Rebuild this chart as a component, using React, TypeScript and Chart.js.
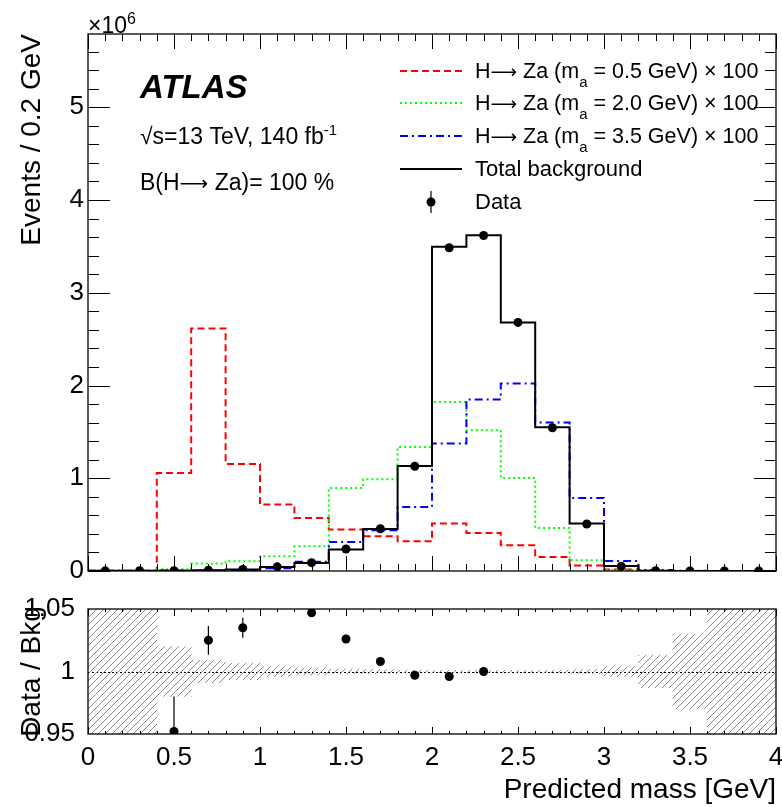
import React, { useEffect, useRef } from 'react';
import { Chart, registerables } from 'chart.js';

Chart.register(...registerables);

const FONT = '"Liberation Sans", Arial, Helvetica, sans-serif';
const ARROW_FONT = '"DejaVu Sans", "Liberation Sans", sans-serif';

// ---- data (events in units of 10^6) ----
const binEdges = [0, 0.2, 0.4, 0.6, 0.8, 1.0, 1.2, 1.4, 1.6, 1.8, 2.0, 2.2, 2.4, 2.6, 2.8, 3.0, 3.2, 3.4, 3.6, 3.8, 4.0];
const binCenters = [0.1, 0.3, 0.5, 0.7, 0.9, 1.1, 1.3, 1.5, 1.7, 1.9, 2.1, 2.3, 2.5, 2.7, 2.9, 3.1, 3.3, 3.5, 3.7, 3.9];

const signalMasses = ['0.5', '2.0', '3.5'];
const signalMa05 = [0, 0, 1.057, 2.615, 1.154, 0.716, 0.572, 0.447, 0.374, 0.320, 0.511, 0.410, 0.277, 0.151, 0.060, 0.015, 0.003, 0.001, 0, 0];
const signalMa20 = [0.002, 0.004, 0.02, 0.08, 0.105, 0.16, 0.266, 0.895, 0.99, 1.338, 1.823, 1.518, 1.003, 0.464, 0.115, 0.012, 0.002, 0, 0, 0];
const signalMa35 = [0.002, 0.003, 0.005, 0.006, 0.01, 0.03, 0.1, 0.313, 0.439, 0.69, 1.374, 1.849, 2.022, 1.601, 0.788, 0.108, 0.01, 0.002, 0, 0];
const totalBackground = [0.002, 0.003, 0.004, 0.008, 0.016, 0.043, 0.086, 0.231, 0.453, 1.133, 3.495, 3.621, 2.68, 1.55, 0.511, 0.054, 0.003, 0.001, 0.0005, 0.0003];
const dataEvents = [0.002, 0.003, 0.004, 0.008, 0.017, 0.045, 0.09, 0.237, 0.456, 1.13, 3.485, 3.618, 2.68, 1.545, 0.507, 0.05, 0.003, 0.001, 0.0005, 0.0003];

const ratioValues = [null, null, 0.952, 1.025, 1.035, null, 1.047, 1.026, 1.008, 0.997, 0.996, 1.0, null, null, null, null, null, null, null, null];
const ratioErrors = [0, 0, 0.028, 0.0115, 0.008, 0, 0.002, 0.0012, 0.001, 0.001, 0.001, 0.001, 0, 0, 0, 0, 0, 0, 0, 0];
const bkgRelUnc = [1, 1, 0.02, 0.009, 0.0066, 0.004, 0.003, 0.002, 0.0015, 0.0012, 0.001, 0.001, 0.001, 0.0012, 0.0015, 0.004, 0.013, 0.03, 1, 1];

const yTickLabels = ['0', '1', '2', '3', '4', '5'];
const ratioTickLabels = ['0.95', '1', '1.05'];

const COLORS = { red: '#ff0000', green: '#00ff00', blue: '#0000ff', black: '#000000' };
const DASH = { red: [7, 4], green: [2, 3], blue: [8, 4, 2, 4], black: [] as number[] };

function stepPoints(vals: number[]) {
  return binEdges.map((x, i) => ({ x, y: vals[Math.min(i, vals.length - 1)] }));
}

type Part = { t: string; size: number; dy?: number; style?: string; family?: string };
function drawRich(ctx: CanvasRenderingContext2D, x: number, y: number, parts: Part[]) {
  let cx = x;
  for (const p of parts) {
    ctx.font = `${p.style || ''} ${p.size}px ${p.family || FONT}`;
    ctx.fillText(p.t, cx, y + (p.dy || 0));
    cx += ctx.measureText(p.t).width;
  }
}

const mainPlugin = {
  id: 'mainDecor',
  afterDraw(chart: any) {
    const { ctx, chartArea: a, scales } = chart;
    const x = scales.x, y = scales.y;
    ctx.save();
    ctx.strokeStyle = '#000';
    ctx.lineWidth = 1;
    ctx.setLineDash([]);
    ctx.beginPath();
    for (let i = 0; i <= 40; i++) {
      const px = Math.round(x.getPixelForValue(i * 0.1)) + 0.5;
      const len = i % 5 === 0 ? 15 : 7;
      ctx.moveTo(px, a.bottom); ctx.lineTo(px, a.bottom - len);
      ctx.moveTo(px, a.top); ctx.lineTo(px, a.top + len);
    }
    for (let j = 0; j * 0.2 <= y.max + 1e-9; j++) {
      const py = Math.round(y.getPixelForValue(j * 0.2)) + 0.5;
      const len = j % 5 === 0 ? 22 : 11;
      ctx.moveTo(a.left, py); ctx.lineTo(a.left + len, py);
      ctx.moveTo(a.right, py); ctx.lineTo(a.right - len, py);
    }
    ctx.stroke();
    ctx.lineWidth = 1.3;
    ctx.strokeRect(a.left, a.top, a.right - a.left, a.bottom - a.top);

    ctx.fillStyle = '#000';
    ctx.textBaseline = 'alphabetic';
    ctx.textAlign = 'left';
    // exponent label
    drawRich(ctx, 88, 33, [{ t: '×10', size: 23 }, { t: '6', size: 16, dy: -9 }]);
    // ATLAS label
    drawRich(ctx, 140, 98, [{ t: 'ATLAS', size: 33, style: 'italic bold' }]);
    drawRich(ctx, 140, 144, [{ t: '√s=13 TeV, 140 fb', size: 23 }, { t: '-1', size: 15, dy: -9 }]);
    drawRich(ctx, 140, 190, [
      { t: 'B(H', size: 23 },
      { t: '⟶', size: 20, family: ARROW_FONT },
      { t: ' Za)= 100 %', size: 23 },
    ]);

    // legend
    const lx0 = 400, lx1 = 462, tx = 475;
    const baselines = [78, 110, 143, 176, 209];
    const sigStyles = [
      { c: COLORS.red, d: DASH.red },
      { c: COLORS.green, d: DASH.green },
      { c: COLORS.blue, d: DASH.blue },
    ];
    signalMasses.forEach((m, i) => {
      const b = baselines[i];
      ctx.strokeStyle = sigStyles[i].c;
      ctx.lineWidth = 2;
      ctx.setLineDash(sigStyles[i].d);
      ctx.beginPath(); ctx.moveTo(lx0, b - 7); ctx.lineTo(lx1, b - 7); ctx.stroke();
      ctx.setLineDash([]);
      drawRich(ctx, tx, b, [
        { t: 'H', size: 21.5 },
        { t: '⟶', size: 18.5, family: ARROW_FONT },
        { t: ' Za (m', size: 21.5 },
        { t: 'a', size: 15, dy: 9 },
        { t: ` = ${m} GeV) × 100`, size: 21.5 },
      ]);
    });
    ctx.strokeStyle = '#000';
    ctx.lineWidth = 2;
    ctx.beginPath(); ctx.moveTo(lx0, baselines[3] - 7); ctx.lineTo(lx1, baselines[3] - 7); ctx.stroke();
    drawRich(ctx, tx, baselines[3], [{ t: 'Total background', size: 22 }]);
    const dx = (lx0 + lx1) / 2, dy = baselines[4] - 7;
    ctx.lineWidth = 1.2;
    ctx.beginPath(); ctx.moveTo(dx, dy - 11); ctx.lineTo(dx, dy + 11); ctx.stroke();
    ctx.beginPath(); ctx.arc(dx, dy, 4.5, 0, Math.PI * 2); ctx.fill();
    drawRich(ctx, tx, baselines[4], [{ t: 'Data', size: 22 }]);
    ctx.restore();
  },
};

const ratioPlugin = {
  id: 'ratioDecor',
  beforeDatasetsDraw(chart: any) {
    const { ctx, chartArea: a, scales } = chart;
    const py = Math.round(scales.y.getPixelForValue(1)) + 0.5;
    ctx.save();
    ctx.strokeStyle = '#000';
    ctx.lineWidth = 1;
    ctx.setLineDash([2, 2]);
    ctx.beginPath(); ctx.moveTo(a.left, py); ctx.lineTo(a.right, py); ctx.stroke();
    ctx.restore();
  },
  afterDatasetsDraw(chart: any) {
    const { ctx, chartArea: a, scales } = chart;
    const x = scales.x, y = scales.y;
    ctx.save();
    ctx.beginPath();
    ctx.rect(a.left, a.top, a.right - a.left, a.bottom - a.top);
    ctx.clip();
    ctx.strokeStyle = '#000';
    ctx.lineWidth = 1.2;
    ctx.beginPath();
    ratioValues.forEach((v, i) => {
      if (v == null || !ratioErrors[i]) return;
      const px = x.getPixelForValue(binCenters[i]);
      ctx.moveTo(px, y.getPixelForValue(v - ratioErrors[i]));
      ctx.lineTo(px, y.getPixelForValue(v + ratioErrors[i]));
    });
    ctx.stroke();
    ctx.restore();
  },
  afterDraw(chart: any) {
    const { ctx, chartArea: a, scales } = chart;
    const x = scales.x;
    ctx.save();
    ctx.strokeStyle = '#000';
    ctx.lineWidth = 1;
    ctx.beginPath();
    for (let i = 0; i <= 40; i++) {
      const px = Math.round(x.getPixelForValue(i * 0.1)) + 0.5;
      const len = i % 5 === 0 ? 7 : 3;
      ctx.moveTo(px, a.bottom); ctx.lineTo(px, a.bottom - len);
      ctx.moveTo(px, a.top); ctx.lineTo(px, a.top + len);
    }
    ctx.stroke();
    ctx.lineWidth = 1.3;
    ctx.strokeRect(a.left, a.top, a.right - a.left, a.bottom - a.top);
    ctx.restore();
  },
};

function makeHatch(target: HTMLCanvasElement) {
  const c = document.createElement('canvas');
  c.width = 7; c.height = 7;
  const g = c.getContext('2d')!;
  g.strokeStyle = '#8a8a8a';
  g.lineWidth = 1;
  g.beginPath();
  g.moveTo(0, 7); g.lineTo(7, 0);
  g.moveTo(-1, 1); g.lineTo(1, -1);
  g.moveTo(6, 8); g.lineTo(8, 6);
  g.stroke();
  return target.getContext('2d')!.createPattern(c, 'repeat');
}

export default function App() {
  const mainRef = useRef<HTMLCanvasElement>(null);
  const ratioRef = useRef<HTMLCanvasElement>(null);

  useEffect(() => {
    Chart.defaults.font.family = FONT;
    Chart.defaults.color = '#000';

    const mainChart = new Chart(mainRef.current!, {
      type: 'line',
      data: {
        datasets: [
          {
            label: 'Data',
            data: binCenters.map((x, i) => ({ x, y: dataEvents[i] })),
            showLine: false,
            pointRadius: 4.5,
            pointBackgroundColor: '#000',
            pointBorderWidth: 0,
            order: 0,
          },
          {
            label: 'Total background',
            data: stepPoints(totalBackground),
            stepped: true,
            borderColor: COLORS.black,
            borderWidth: 2,
            pointRadius: 0,
            fill: false,
            order: 1,
          },
          {
            label: 'ma=3.5',
            data: stepPoints(signalMa35),
            stepped: true,
            borderColor: COLORS.blue,
            borderDash: DASH.blue,
            borderWidth: 2,
            pointRadius: 0,
            fill: false,
            order: 2,
          },
          {
            label: 'ma=2.0',
            data: stepPoints(signalMa20),
            stepped: true,
            borderColor: COLORS.green,
            borderDash: DASH.green,
            borderWidth: 2,
            pointRadius: 0,
            fill: false,
            order: 3,
          },
          {
            label: 'ma=0.5',
            data: stepPoints(signalMa05),
            stepped: true,
            borderColor: COLORS.red,
            borderDash: DASH.red,
            borderWidth: 2,
            pointRadius: 0,
            fill: false,
            order: 4,
          },
        ],
      } as any,
      options: {
        responsive: false,
        animation: false,
        events: [],
        layout: { padding: { left: 0, right: 6, top: 34, bottom: 29 } },
        plugins: { legend: { display: false }, tooltip: { enabled: false } },
        scales: {
          x: { type: 'linear', min: 0, max: 4, display: false },
          y: {
            type: 'linear',
            min: 0,
            max: 5.79,
            grid: { display: false, drawTicks: false },
            border: { display: false },
            ticks: {
              stepSize: 1,
              includeBounds: false,
              padding: 4,
              color: '#000',
              font: { family: FONT, size: 26 },
              callback: (v: any) => yTickLabels[Math.round(v)] ?? '',
            },
            title: {
              display: true,
              text: 'Events / 0.2 GeV',
              align: 'end',
              color: '#000',
              font: { family: FONT, size: 28 },
              padding: { top: 15, bottom: 0 },
            },
            afterFit: (s: any) => { s.width = 88; },
          },
        },
      } as any,
      plugins: [mainPlugin],
    });

    const hatch = makeHatch(ratioRef.current!);
    const ratioChart = new Chart(ratioRef.current!, {
      type: 'bar',
      data: {
        datasets: [
          {
            type: 'line',
            label: 'Data / Bkg',
            data: binCenters
              .map((x, i) => ({ x, y: ratioValues[i] }))
              .filter((p) => p.y != null),
            showLine: false,
            pointRadius: 4.5,
            pointBackgroundColor: '#000',
            pointBorderWidth: 0,
            order: 0,
          },
          {
            type: 'bar',
            label: 'Bkg. unc.',
            data: binCenters.map((x, i) => ({ x, y: [1 - bkgRelUnc[i], 1 + bkgRelUnc[i]] })),
            backgroundColor: hatch,
            borderWidth: 0,
            barPercentage: 1,
            categoryPercentage: 1,
            grouped: false,
            order: 1,
          },
        ],
      } as any,
      options: {
        responsive: false,
        animation: false,
        events: [],
        layout: { padding: { left: 0, right: 6, top: 29, bottom: 0 } },
        plugins: { legend: { display: false }, tooltip: { enabled: false } },
        scales: {
          x: {
            type: 'linear',
            min: 0,
            max: 4,
            offset: false,
            grid: { display: false, drawTicks: false },
            border: { display: false },
            ticks: {
              stepSize: 0.5,
              padding: 8,
              maxRotation: 0,
              autoSkip: false,
              color: '#000',
              font: { family: FONT, size: 26 },
              callback: (v: any) => String(v),
            },
            title: {
              display: true,
              text: 'Predicted mass [GeV]',
              align: 'end',
              color: '#000',
              font: { family: FONT, size: 28 },
              padding: { top: 0, bottom: 0 },
            },
            afterFit: (s: any) => { s.height = 73; s.paddingLeft = 0; s.paddingRight = 0; },
          },
          y: {
            type: 'linear',
            min: 0.95,
            max: 1.05,
            grid: { display: false, drawTicks: false },
            border: { display: false },
            ticks: {
              stepSize: 0.05,
              padding: 13,
              color: '#000',
              font: { family: FONT, size: 26 },
              callback: (v: any) => {
                const idx = Math.round((v - 0.95) / 0.05);
                return ratioTickLabels[idx] ?? '';
              },
            },
            title: {
              display: true,
              text: 'Data / Bkg',
              align: 'center',
              color: '#000',
              font: { family: FONT, size: 28 },
              padding: { top: 15, bottom: 0 },
            },
            afterFit: (s: any) => { s.width = 88; },
          },
        },
      } as any,
      plugins: [ratioPlugin],
    });

    return () => {
      mainChart.destroy();
      ratioChart.destroy();
    };
  }, []);

  return (
    <div style={{ position: 'absolute', left: 0, top: 0, width: 782, height: 807, background: '#fff' }}>
      <canvas ref={mainRef} width={782} height={600} style={{ position: 'absolute', left: 0, top: 0 }} />
      <canvas ref={ratioRef} width={782} height={227} style={{ position: 'absolute', left: 0, top: 580 }} />
    </div>
  );
}
